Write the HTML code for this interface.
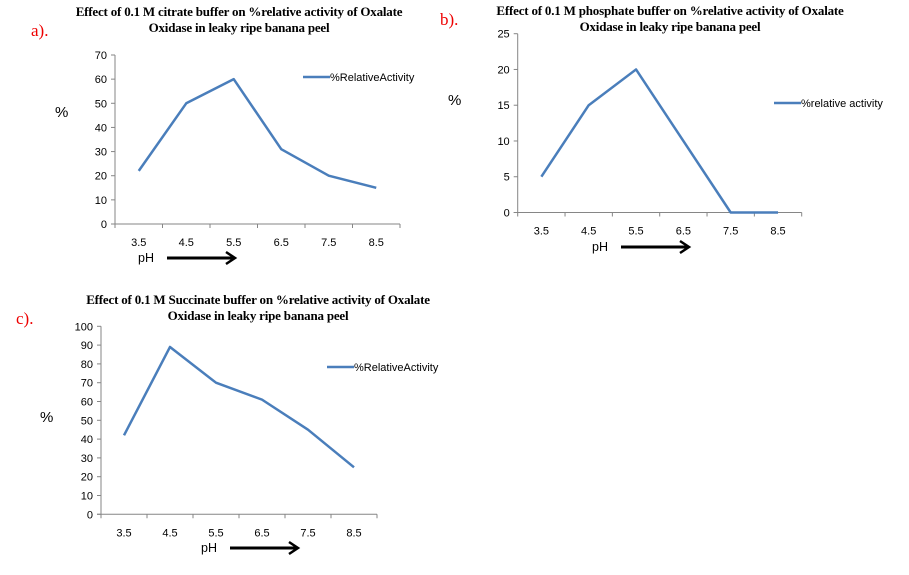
<!DOCTYPE html>
<html><head><meta charset="utf-8"><style>
body{margin:0;background:#fff;width:909px;height:575px;overflow:hidden}
svg{display:block}
.t{font-family:"Liberation Serif",serif;font-weight:bold;font-size:13px;letter-spacing:-0.2px}
.k{font-family:"Liberation Sans",sans-serif;font-size:11px;fill:#000}
.lab{font-family:"Liberation Serif",serif;font-size:17px;fill:#e00}
</style></head><body>
<svg id="s" width="909" height="575"></svg>
<script>
const categories=["3.5","4.5","5.5","6.5","7.5","8.5"];
const citrateValues=[22,50,60,31,20,15];
const phosphateValues=[5,15,20,10,0,0];
const succinateValues=[42,89,70,61,45,25];
const citrateTicks=[0,10,20,30,40,50,60,70];
const phosphateTicks=[0,5,10,15,20,25];
const succinateTicks=[0,10,20,30,40,50,60,70,80,90,100];
const NS="http://www.w3.org/2000/svg";
const svg=document.getElementById('s');
function mk(tag,attrs,parent,text){const e=document.createElementNS(NS,tag);for(const k in attrs)e.setAttribute(k,attrs[k]);if(text!==undefined)e.textContent=text;(parent||svg).appendChild(e);return e;}
function chart(o){
  const g=mk('g',{});
  
  
  const max=o.ticks[o.ticks.length-1];
  const yS=v=>o.y0-(v/max)*(o.y0-o.y1);
  const bw=(o.x1-o.x0)/categories.length;
  const xS=i=>o.x0+bw*(i+0.5);
  const ya=mk('line',{x1:o.x0,y1:o.y1,x2:o.x0,y2:o.y0,stroke:'#868686'},g);
  
  
  const xa=mk('line',{x1:o.x0-4,y1:o.y0,x2:o.x1,y2:o.y0,stroke:'#868686'},g);
  
  
  o.ticks.forEach(t=>{const y=yS(t);
    mk('line',{x1:o.x0-4,y1:y,x2:o.x0,y2:y,stroke:'#868686'},g);
    const tl=mk('text',{x:o.x0-8,y:y+4,'text-anchor':'end',class:'k'},g,t);
    
    });
  for(let i=0;i<=categories.length;i++){const x=o.x0+bw*i;mk('line',{x1:x,y1:o.y0,x2:x,y2:o.y0+4,stroke:'#868686'},g);}
  categories.forEach((c,i)=>{const tl=mk('text',{x:xS(i),y:o.y0+22,'text-anchor':'middle',class:'k'},g,c);
    
    });
  const pts=o.values.map((v,i)=>xS(i)+','+yS(v)).join(' ');
  const ln=mk('polyline',{points:pts,fill:'none',stroke:'#4a7ebb',"stroke-width":2.5,"stroke-linejoin":"round"},g);
  
  
  const lg=mk('g',{},g);
  
  
  mk('line',{x1:o.lx,y1:o.ly,x2:o.lx+27,y2:o.ly,stroke:'#4a7ebb',"stroke-width":2.5},lg);
  mk('text',{x:o.lx+27,y:o.ly+4,class:'k'},lg,o.legend);
  const tt=mk('text',{x:o.tx,y:o.ty,'text-anchor':'middle',class:'t'},g);
  
  
  mk('tspan',{x:o.tx,dy:0},tt,o.title1);
  mk('tspan',{x:o.tx,dy:16},tt,o.title2);
  const p=mk('text',{x:o.px,y:o.py,class:'k',style:'font-size:15px'},g,'%');
  
  
  const ph=mk('text',{x:o.phx,y:o.phy,class:'k',style:'font-size:12.5px'},g,'pH');
  
  
  const ar=mk('g',{},g);
  
  
  mk('line',{x1:o.phx+29,y1:o.phy-4,x2:o.phx+95,y2:o.phy-4,stroke:'#000',"stroke-width":3},ar);
  mk('polyline',{points:`${o.phx+88},${o.phy-10} ${o.phx+97},${o.phy-4} ${o.phx+88},${o.phy+2}`,fill:'none',stroke:'#000',"stroke-width":2.5},ar);
  const lb=mk('text',{x:o.labx,y:o.laby,class:'lab'},g,o.lab);
  
  
}
const T2="Oxidase in leaky ripe banana peel";
chart({name:'citrate-chart',values:citrateValues,ticks:citrateTicks,x0:115,x1:400,y0:224,y1:55,lx:303,ly:77,legend:'%RelativeActivity',
  tx:239,ty:16,title1:'Effect of 0.1 M citrate buffer on %relative activity of Oxalate',title2:T2,px:55,py:117,phx:138,phy:262,lab:'a).',labx:31,laby:36});
chart({name:'phosphate-chart',values:phosphateValues,ticks:phosphateTicks,x0:517.7,x1:801.7,y0:212.5,y1:33.7,lx:774,ly:103,legend:'%relative activity',
  tx:670,ty:15,title1:'Effect of 0.1 M phosphate buffer on %relative activity of Oxalate',title2:T2,px:448,py:105,phx:592,phy:251,lab:'b).',labx:440,laby:25});
chart({name:'succinate-chart',values:succinateValues,ticks:succinateTicks,x0:101,x1:377,y0:514.3,y1:326.3,lx:327,ly:367,legend:'%RelativeActivity',
  tx:258,ty:304,title1:'Effect of 0.1 M Succinate buffer on %relative activity of Oxalate',title2:T2,px:40,py:422,phx:201,phy:552,lab:'c).',labx:16,laby:324});
</script>
</body></html>
